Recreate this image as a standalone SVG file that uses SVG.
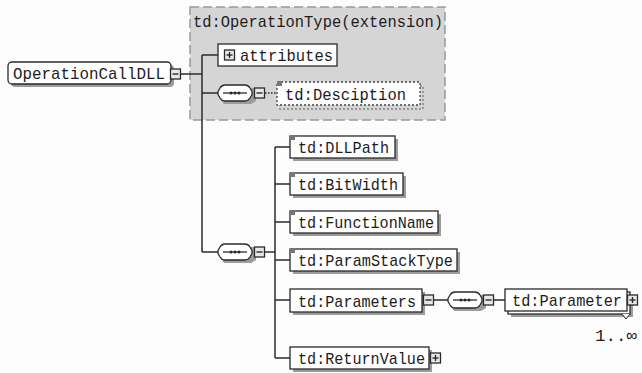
<svg xmlns="http://www.w3.org/2000/svg" width="642" height="373" viewBox="0 0 642 373">
<style>
.bg{fill:#fdfdfd}
.box{fill:#fff;stroke:#2a2a2a;stroke-width:1.3}
.shadow{fill:#9c9c9c}
.opt{fill:#fff;stroke:#444;stroke-width:1.3;stroke-dasharray:2 2}
.optsh{fill:none;stroke:#999;stroke-width:2;stroke-dasharray:2 2}
.t{font-family:"Liberation Mono","DejaVu Sans Mono",monospace;font-size:17px;fill:#1c1c1c}
.conn{stroke:#2a2a2a;stroke-width:1.5;fill:none}
.dconn{stroke:#2a2a2a;stroke-width:1.5;fill:none;stroke-dasharray:1.5 1.5}
.mark{fill:#777}
.grp{fill:#d5d5d5;stroke:#999;stroke-width:1.5;stroke-dasharray:9 4}
</style>
<defs>
<g id="minus">
<rect x="0.5" y="-5" width="10" height="10" fill="#e8e8e8" stroke="#2a2a2a" stroke-width="1.3"/>
<line x1="2.5" y1="0" x2="8.5" y2="0" stroke="#2a2a2a" stroke-width="1.4"/>
</g>
<g id="plus">
<rect x="0.5" y="-5" width="10" height="10" fill="#e8e8e8" stroke="#2a2a2a" stroke-width="1.3"/>
<line x1="2.5" y1="0" x2="8.5" y2="0" stroke="#2a2a2a" stroke-width="1.4"/>
<line x1="5.5" y1="-3" x2="5.5" y2="3" stroke="#2a2a2a" stroke-width="1.4"/>
</g>
<g id="seq">
<path d="M8,-5 H36 L38,-2 V8 L33,11 H6 L3,7 Z" fill="#9c9c9c"/>
<path d="M7,-8 H27 Q30,-8 32,-5 L34,-1.5 V1.5 L32,5 Q30,8 27,8 H7 Q4,8 2,5 L0,1.5 V-1.5 L2,-5 Q4,-8 7,-8 Z" fill="#fff" stroke="#2a2a2a" stroke-width="1.3" stroke-linejoin="round"/>
<line x1="5" y1="0" x2="29" y2="0" stroke="#2a2a2a" stroke-width="1.3"/>
<circle cx="13" cy="0" r="1.5" fill="#2a2a2a"/>
<circle cx="17" cy="0" r="1.5" fill="#2a2a2a"/>
<circle cx="21" cy="0" r="1.5" fill="#2a2a2a"/>
</g>
</defs>
<rect class="bg" x="0" y="0" width="642" height="373"/>

<g id="extension">
<rect class="grp" x="190" y="7" width="255" height="113"/>
<text class="t" x="193" y="27" textLength="250" lengthAdjust="spacingAndGlyphs">td:OperationType(extension)</text>
</g>

<g id="connectors">
<path class="conn" d="M181,74 H202"/>
<path class="conn" d="M202,55 V252"/>
<path class="conn" d="M202,55 H218"/>
<path class="conn" d="M202,93 H218"/>
<path class="conn" d="M202,252 H218"/>
<path class="dconn" d="M265,93 H277"/>
<path class="conn" d="M265,252 H275"/>
<path class="conn" d="M275,147 V358"/>
<path class="conn" d="M275,147 H290"/>
<path class="conn" d="M275,184 H290"/>
<path class="conn" d="M275,222 H290"/>
<path class="conn" d="M275,260 H290"/>
<path class="conn" d="M275,300 H290"/>
<path class="conn" d="M275,358 H290"/>
<path class="conn" d="M434,300 H448"/>
<path class="conn" d="M494,300 H505"/>
</g>

<g id="OperationCallDLL">
<rect class="shadow" x="11" y="65" width="163" height="22" rx="4"/>
<rect class="box" x="8" y="62" width="163" height="22" rx="4"/>
<text class="t" x="13" y="79" textLength="152" lengthAdjust="spacingAndGlyphs">OperationCallDLL</text>
<use href="#minus" x="170" y="74"/>
</g>

<g id="attributes">
<rect class="box" x="218" y="44" width="119" height="22"/>
<use href="#plus" x="224" y="55"/>
<text class="t" x="240" y="61" textLength="93" lengthAdjust="spacingAndGlyphs">attributes</text>
</g>

<g id="sequence1">
<use href="#seq" x="218" y="93"/>
<use href="#minus" x="254" y="93"/>
</g>

<g id="Desciption">
<rect class="optsh" x="280" y="86" width="143" height="23"/>
<rect class="opt" x="277" y="82" width="143" height="23"/>
<rect class="mark" x="277" y="81" width="5" height="5"/>
<text class="t" x="285" y="100" textLength="121" lengthAdjust="spacingAndGlyphs">td:Desciption</text>
</g>

<g id="sequence2">
<use href="#seq" x="218" y="252"/>
<use href="#minus" x="254" y="252"/>
</g>

<g id="DLLPath">
<rect class="shadow" x="293" y="139" width="105" height="22"/>
<rect class="box" x="290" y="136" width="105" height="22"/>
<rect class="mark" x="290" y="135" width="5" height="5"/>
<text class="t" x="298" y="153" textLength="91" lengthAdjust="spacingAndGlyphs">td:DLLPath</text>
</g>

<g id="BitWidth">
<rect class="shadow" x="293" y="176" width="113" height="22"/>
<rect class="box" x="290" y="173" width="113" height="22"/>
<rect class="mark" x="290" y="172" width="5" height="5"/>
<text class="t" x="298" y="190" textLength="100" lengthAdjust="spacingAndGlyphs">td:BitWidth</text>
</g>

<g id="FunctionName">
<rect class="shadow" x="293" y="214" width="148" height="22"/>
<rect class="box" x="290" y="211" width="148" height="22"/>
<rect class="mark" x="290" y="210" width="5" height="5"/>
<text class="t" x="298" y="228" textLength="136" lengthAdjust="spacingAndGlyphs">td:FunctionName</text>
</g>

<g id="ParamStackType">
<rect class="shadow" x="293" y="252" width="167" height="22"/>
<rect class="box" x="290" y="249" width="167" height="22"/>
<rect class="mark" x="290" y="248" width="5" height="5"/>
<text class="t" x="298" y="266" textLength="155" lengthAdjust="spacingAndGlyphs">td:ParamStackType</text>
</g>

<g id="Parameters">
<rect class="shadow" x="293" y="292" width="132" height="23"/>
<rect class="box" x="290" y="289" width="132" height="23"/>
<text class="t" x="298" y="307" textLength="118" lengthAdjust="spacingAndGlyphs">td:Parameters</text>
<use href="#minus" x="423" y="300"/>
</g>

<g id="sequence3">
<use href="#seq" x="448" y="300"/>
<use href="#minus" x="483" y="300"/>
</g>

<g id="Parameter">
<rect class="shadow" x="511" y="295" width="122" height="22"/>
<rect class="box" x="508" y="292" width="122" height="22"/>
<rect class="box" x="505" y="289" width="122" height="22"/>
<path d="M622,314 L626,319 L630,314" fill="#fff" stroke="#2a2a2a" stroke-width="1"/>
<text class="t" x="512" y="306" textLength="110" lengthAdjust="spacingAndGlyphs">td:Parameter</text>
<use href="#plus" x="627" y="300"/>
<text class="t" x="595" y="341" textLength="42" lengthAdjust="spacingAndGlyphs">1..∞</text>
</g>

<g id="ReturnValue">
<rect class="shadow" x="293" y="350" width="139" height="22"/>
<rect class="box" x="290" y="347" width="139" height="22"/>
<text class="t" x="298" y="364" textLength="127" lengthAdjust="spacingAndGlyphs">td:ReturnValue</text>
<use href="#plus" x="430" y="358"/>
</g>
</svg>
